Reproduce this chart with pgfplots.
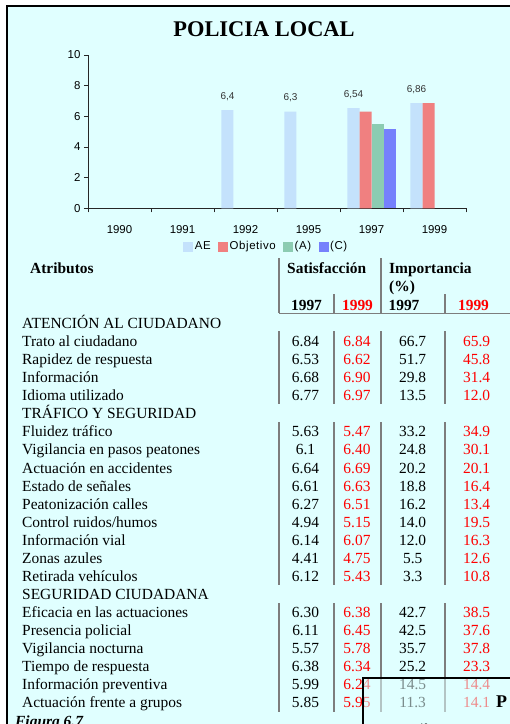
\documentclass[border=0pt]{standalone}
\usepackage{pgfplots}
\pgfplotsset{compat=1.18}
\usepackage{pgfplotstable}
\usepackage{fontspec}
\setmainfont{Liberation Serif}
\setsansfont{Liberation Sans}
\newfontfamily\lsans{Liberation Sans}[LetterSpace=5]

\definecolor{bgc}{RGB}{224,255,255}
\definecolor{cAE}{RGB}{196,226,252}
\definecolor{cObj}{RGB}{240,128,128}
\definecolor{cA}{RGB}{140,204,178}
\definecolor{cC}{RGB}{118,128,252}
\definecolor{tred}{RGB}{255,0,0}
\definecolor{rule}{RGB}{125,125,125}

\newcommand\tf{\fontsize{15.5}{18}\selectfont}
\pgfplotsset{sqleg/.style={legend image code/.code={\fill[##1,draw=none] (0bp,-5bp) rectangle (10bp,5bp);}}}

% AE series with its printed labels
\pgfplotstableread{
x y lab
2 6.4 {6,4}
3 6.3 {6,3}
4 6.54 {6,54}
5 6.86 {6,86}
}\aetab

% table rows: baseline, name, sat97, sat99, imp97, imp99
\newcommand\drow[6]{%
  \node[anchor=base west] at (22,#1) {#2};
  \node[anchor=base] at (305.5,#1) {#3};
  \node[anchor=base,text=tred] at (357,#1) {#4};
  \node[anchor=base] at (412.7,#1) {#5};
  \node[anchor=base,text=tred] at (476.7,#1) {#6};}

\begin{document}
\begin{tikzpicture}
\useasboundingbox (0,0) rectangle (510bp,-724bp);
\begin{scope}[x=1bp,y=-1bp]
  \fill[white] (0,0) rectangle (510,724);
  \fill[bgc] (7,6) rectangle (510,724);
  \draw[line width=1.5bp] (7,730) -- (7,6) -- (512,6);
  \node[inner sep=0pt,anchor=base,font=\bfseries\fontsize{22.5}{26}\selectfont] at (264,36) {POLICIA LOCAL};
\end{scope}

\begin{axis}[
  at={(88bp,-208.3bp)}, anchor=south west,
  scale only axis, width=378bp, height=153.3bp,
  xmin=-0.5, xmax=5.5, ymin=0, ymax=10,
  axis x line=bottom, axis y line=left,
  axis line style={-, black!85, line width=0.8bp},
  xtick={0,...,5}, xticklabels={1990,1991,1992,1995,1997,1999},
  minor xtick={-0.5,0.5,...,5.5},
  major x tick style={draw=none},
  ytick={0,2,...,10},
  tick align=outside,
  tick style={black!85, line width=0.8bp},
  major tick length=4bp, minor tick length=4bp,
  ticklabel style={font=\sffamily\fontsize{11.5}{12}\selectfont, text=black},
  xticklabel style={yshift=-10bp},
  /pgf/number format/assume math mode=true,
  ybar, bar width=12bp,
  legend style={at={(0.471,-0.19)}, anchor=north, draw=none, fill=none,
    legend columns=4, font=\lsans\fontsize{11.5}{12}\selectfont,
    nodes={inner xsep=1.5bp},
    /tikz/every even column/.append style={column sep=6bp}},
]
\addplot[ybar, bar shift=-18bp, fill=cAE, draw=none, sqleg,
  nodes near coords, point meta=explicit symbolic,
  every node near coord/.append style={font=\sffamily\fontsize{10}{11}\selectfont, text=black!80, yshift=6bp}]
  table[x=x, y=y, meta=lab] {\aetab};
\addlegendentry{AE}
\addplot[ybar, bar shift=-6bp, fill=cObj, draw=none, sqleg]
  coordinates {(4,6.3) (5,6.86)};
\addlegendentry{Objetivo}
\addplot[ybar, bar shift=6bp, fill=cA, draw=none, sqleg]
  coordinates {(4,5.5)};
\addlegendentry{(A)}
\addplot[ybar, bar shift=18bp, fill=cC, draw=none, sqleg]
  coordinates {(4,5.17)};
\addlegendentry{(C)}
\end{axis}

\begin{scope}[x=1bp,y=-1bp, every node/.style={inner sep=0pt}, font=\tf]
  % header
  \node[anchor=base west,font=\tf\bfseries] at (30,273) {Atributos};
  \node[anchor=base west,font=\tf\bfseries] at (287,273) {Satisfacción};
  \node[anchor=base west,font=\tf\bfseries] at (389,273) {Importancia};
  \node[anchor=base west,font=\tf\bfseries] at (389,291) {(\%)};
  \node[anchor=base,font=\tf\bfseries] at (306.5,310) {1997};
  \node[anchor=base,font=\tf\bfseries,text=tred] at (357.5,310) {1999};
  \node[anchor=base,font=\tf\bfseries] at (404,310) {1997};
  \node[anchor=base,font=\tf\bfseries,text=tred] at (473.5,310) {1999};
  \draw[rule, line width=2bp] (279,258) -- (279,313) (381,258) -- (381,313)
    (334,294) -- (334,313) (445,294) -- (445,313);
  \draw[rule, line width=1.5bp] (279,313.5) -- (512,313.5);
  % column rules of the three blocks
  \foreach \a/\b in {331/404, 422/585, 603/712}
    \draw[rule, line width=2bp] (279,\a) -- (279,\b) (334,\a) -- (334,\b)
      (381,\a) -- (381,\b) (445,\a) -- (445,\b);
  % body
  \node[anchor=base west] at (22,328.5) {ATENCIÓN AL CIUDADANO};
  \drow{346.57}{Trato al ciudadano}{6.84}{6.84}{66.7}{65.9}
  \drow{364.64}{Rapidez de respuesta}{6.53}{6.62}{51.7}{45.8}
  \drow{382.71}{Información}{6.68}{6.90}{29.8}{31.4}
  \drow{400.78}{Idioma utilizado}{6.77}{6.97}{13.5}{12.0}
  \node[anchor=base west] at (22,418.85) {TRÁFICO Y SEGURIDAD};
  \drow{436.92}{Fluidez tráfico}{5.63}{5.47}{33.2}{34.9}
  \drow{454.99}{Vigilancia en pasos peatones}{6.1}{6.40}{24.8}{30.1}
  \drow{473.06}{Actuación en accidentes}{6.64}{6.69}{20.2}{20.1}
  \drow{491.13}{Estado de señales}{6.61}{6.63}{18.8}{16.4}
  \drow{509.2}{Peatonización calles}{6.27}{6.51}{16.2}{13.4}
  \drow{527.27}{Control ruidos/humos}{4.94}{5.15}{14.0}{19.5}
  \drow{545.34}{Información vial}{6.14}{6.07}{12.0}{16.3}
  \drow{563.41}{Zonas azules}{4.41}{4.75}{5.5}{12.6}
  \drow{581.48}{Retirada vehículos}{6.12}{5.43}{3.3}{10.8}
  \node[anchor=base west] at (22,599.55) {SEGURIDAD CIUDADANA};
  \drow{617.62}{Eficacia en las actuaciones}{6.30}{6.38}{42.7}{38.5}
  \drow{635.69}{Presencia policial}{6.11}{6.45}{42.5}{37.6}
  \drow{653.76}{Vigilancia nocturna}{5.57}{5.78}{35.7}{37.8}
  \drow{671.83}{Tiempo de respuesta}{6.38}{6.34}{25.2}{23.3}
  \drow{689.9}{Información preventiva}{5.99}{6.24}{14.5}{14.4}
  \drow{707.97}{Actuación frente a grupos}{5.85}{5.95}{11.3}{14.1}
  \node[anchor=base west,font=\tf\bfseries\itshape] at (15,726.5) {Figura 6.7};
  % next page peeking in at the bottom right
  \fill[bgc, fill opacity=0.55] (363,678) rectangle (512,730);
  \draw[line width=1.2bp] (363,730) -- (363,678) -- (512,678);
  \node[anchor=base west,font=\bfseries\fontsize{18}{20}\selectfont] at (496,707) {P};
  \node[anchor=base,font=\sffamily\fontsize{8}{9}\selectfont] at (424,729) {10};
\end{scope}
\end{tikzpicture}
\end{document}
